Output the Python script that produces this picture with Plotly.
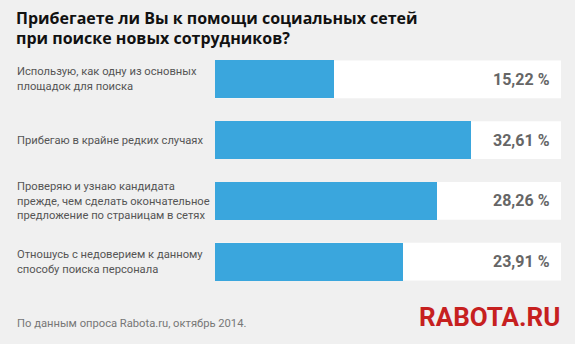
import plotly.graph_objects as go

categories = [
    "Использую, как одну из основных<br>площадок для поиска",
    "Прибегаю в крайне редких случаях",
    "Проверяю и узнаю кандидата<br>прежде, чем сделать окончательное<br>предложение по страницам в сетях",
    "Отношусь с недоверием к данному<br>способу поиска персонала",
]
values = [15.22, 32.61, 28.26, 23.91]
value_labels = ["15,22 %", "32,61 %", "28,26 %", "23,91 %"]
title_lines = ["Прибегаете ли Вы к помощи социальных сетей", "при поиске новых сотрудников?"]
source_text = "По данным опроса Rabota.ru, октябрь 2014."
logo_text = "RABOTA.RU"

W, H = 575, 344
L, R, T, B = 215, 561, 49, 292
X_MAX = 44.1
BAR_W = 0.625
BG = "#f0f0f0"
BLUE = "#3aa6dd"

def px(x):
    return (x - L) / (R - L)

def py(y):
    return (B - y) / (B - T)

ids = list(range(len(categories)))

fig = go.Figure()
fig.add_trace(go.Bar(
    y=ids, x=values, orientation="h", width=BAR_W,
    marker=dict(color=BLUE, line=dict(width=0)), hoverinfo="skip",
))

shapes = []
annotations = []
for i, (cat, lab) in enumerate(zip(categories, value_labels)):
    shapes.append(dict(type="rect", xref="x domain", yref="y", x0=0, x1=1,
                       y0=i - BAR_W / 2, y1=i + BAR_W / 2,
                       fillcolor="white", line=dict(width=0), layer="below"))
    annotations.append(dict(text=cat, xref="paper", yref="y", x=px(15), y=i,
                            xanchor="left", yanchor="middle", align="left", showarrow=False,
                            font=dict(family="Roboto", size=11.2, color="#555555")))
    annotations.append(dict(text="<b>" + lab + "</b>", xref="paper", yref="y", x=px(552), y=i,
                            xanchor="right", yanchor="middle", showarrow=False,
                            font=dict(family="Roboto", size=16, color="#666666")))

for k, line in enumerate(title_lines):
    annotations.append(dict(text="<b>" + line + "</b>", xref="paper", yref="paper",
                            x=px(14), y=py(18 + 20 * k), xanchor="left", yanchor="middle",
                            showarrow=False,
                            font=dict(family="Open Sans", size=16, color="#111111")))

annotations.append(dict(text=source_text, xref="paper", yref="paper", x=px(15), y=py(323),
                        xanchor="left", yanchor="middle", showarrow=False,
                        font=dict(family="Roboto", size=11.2, color="#777777")))
annotations.append(dict(text="<b>" + logo_text + "</b>", xref="paper", yref="paper", x=px(562), y=py(317),
                        xanchor="right", yanchor="middle", showarrow=False,
                        font=dict(family="Roboto", size=26, color="#c6201f")))

fig.update_layout(
    width=W, height=H,
    margin=dict(l=L, r=W - R, t=T, b=H - B, pad=0),
    paper_bgcolor=BG, plot_bgcolor=BG,
    showlegend=False,
    xaxis=dict(range=[0, X_MAX], visible=False, fixedrange=True),
    yaxis=dict(range=[len(categories) - 0.5, -0.5], visible=False, fixedrange=True),
    shapes=shapes, annotations=annotations,
    bargap=0,
)

fig.write_html("out.html", config={"displayModeBar": False})
